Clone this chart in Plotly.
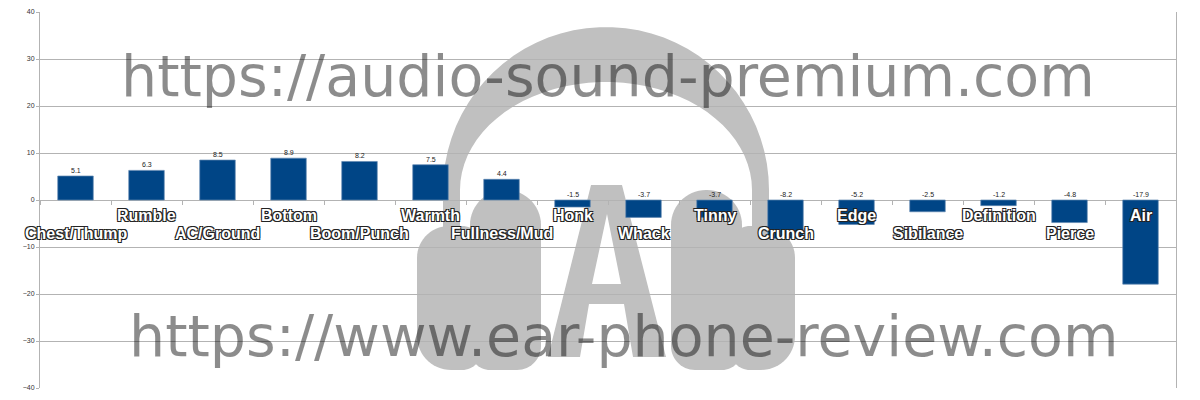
import numpy as np
import plotly.graph_objects as go

# ---------------- data ----------------
categories = ["Chest/Thump", "Rumble", "AC/Ground", "Bottom", "Boom/Punch", "Warmth",
              "Fullness/Mud", "Honk", "Whack", "Tinny", "Crunch", "Edge", "Sibilance",
              "Definition", "Pierce", "Air"]
values = [5.1, 6.3, 8.5, 8.9, 8.2, 7.5, 4.4, -1.5, -3.7, -3.7, -8.2, -5.2, -2.5, -1.2, -4.8, -17.9]
y_ticks = [-40, -30, -20, -10, 0, 10, 20, 30, 40]
label_rows = [-7.2, -3.4]          # y positions (data units) of the alternating label rows
watermark_top = "https://audio-sound-premium.com"
watermark_bottom = "https://www.ear-phone-review.com"

# ---------------- layout geometry ----------------
W, H = 1200, 400
ML, MR, MT, MB = 40, 24, 12, 12
PW, PH = W - ML - MR, H - MT - MB

def px2paper(x, y):
    return (x - ML) / PW, (H - MB - y) / PH

def path_from(points, close=True):
    s = ""
    for i, (x, y) in enumerate(points):
        px_, py_ = px2paper(x, y)
        s += ("M" if i == 0 else "L") + f"{px_:.5f},{py_:.5f} "
    if close:
        s += "Z "
    return s

def arc(cx, cy, rx, ry, a0, a1, n=40):
    t = np.linspace(np.radians(a0), np.radians(a1), n)
    return [(cx + rx * np.cos(a), cy - ry * np.sin(a)) for a in t]

def rrect(x0, y0, x1, y1, rtl, rtr, rbr, rbl):
    pts = []
    pts += arc(x0 + rtl, y0 + rtl, rtl, rtl, 180, 90, 16)
    pts += arc(x1 - rtr, y0 + rtr, rtr, rtr, 90, 0, 16)
    pts += arc(x1 - rbr, y1 - rbr, rbr, rbr, 0, -90, 16)
    pts += arc(x0 + rbl, y1 - rbl, rbl, rbl, 270, 180, 16)
    return pts

LOGO = "#c0c0c0"
CX = 606

shapes = []
# headband
band = [(443, 238)] + arc(CX, 190, 163, 163, 180, 0) + [(769, 238), (752, 238)] \
       + arc(CX, 190, 146, 108, 0, 180) + [(460, 238)]
shapes.append(dict(type="path", path=path_from(band), xref="paper", yref="paper",
                   fillcolor=LOGO, line=dict(width=0), layer="below"))
# ear cups (left, then mirrored right)
cups_left = [rrect(417, 226, 482, 370, 32, 20, 20, 34),
             rrect(470, 190, 541, 370, 35, 35, 24, 20)]
for c in cups_left:
    shapes.append(dict(type="path", path=path_from(c), xref="paper", yref="paper",
                       fillcolor=LOGO, line=dict(width=0), layer="below"))
    mirrored = [(2 * CX - x, y) for x, y in c]
    shapes.append(dict(type="path", path=path_from(mirrored), xref="paper", yref="paper",
                       fillcolor=LOGO, line=dict(width=0), layer="below"))
# letter A
a_outer = [(548, 357), (591, 185), (622, 185), (666, 357), (633, 357), (624, 304),
           (589, 304), (580, 357)]
a_inner = [(592, 284), (607, 214), (621, 284)]
shapes.append(dict(type="path", path=path_from(a_outer) + path_from(a_inner),
                   xref="paper", yref="paper", fillcolor=LOGO, fillrule="evenodd",
                   line=dict(width=0), layer="below"))

# ---------------- figure ----------------
fig = go.Figure()
fig.add_trace(go.Bar(
    x=categories, y=values,
    marker=dict(color="#004586", line=dict(color="#5f86b0", width=0.7)),
    hoverinfo="x+y",
))

annotations = []
# value labels
for c, v in zip(categories, values):
    annotations.append(dict(x=c, y=max(v, 0), xref="x", yref="y", text=f"{v:g}",
                            showarrow=False, yanchor="bottom", yshift=0,
                            font=dict(family="Liberation Sans", size=7, color="#222222")))
# category labels with outline
outline = "-1px -1px 0 #222, 1px -1px 0 #222, -1px 1px 0 #222, 1px 1px 0 #222"
for i, c in enumerate(categories):
    annotations.append(dict(x=c, y=label_rows[i % 2], xref="x", yref="y", text=c,
                            showarrow=False, yanchor="middle",
                            font=dict(family="Liberation Sans", size=16, color="white",
                                      weight="bold", shadow=outline)))
# watermarks
for txt, (xc, yc) in [(watermark_top, (608, 76)), (watermark_bottom, (623, 336))]:
    px_, py_ = px2paper(xc, yc)
    annotations.append(dict(x=px_, y=py_, xref="paper", yref="paper", text=txt,
                            showarrow=False, xanchor="center", yanchor="middle",
                            font=dict(family="DejaVu Sans", size=57,
                                      color="rgba(0,0,0,0.45)")))

fig.update_layout(
    width=W, height=H,
    margin=dict(l=ML, r=MR, t=MT, b=MB, pad=0),
    plot_bgcolor="white", paper_bgcolor="white",
    showlegend=False, bargap=0.5,
    shapes=shapes, annotations=annotations,
    xaxis=dict(type="category", anchor="free", position=0.5, range=[-0.5, 15.5],
               showticklabels=False, showgrid=False, showline=False, zeroline=False,
               ticks="outside", tickson="boundaries", ticklen=4, tickcolor="#b3b3b3"),
    yaxis=dict(range=[-40, 40], tickvals=y_ticks, showgrid=True, gridcolor="#b3b3b3",
               gridwidth=1, zeroline=True, zerolinecolor="#b3b3b3", zerolinewidth=1,
               showline=True, linecolor="#b3b3b3", mirror=True, ticks="outside",
               ticklen=3, tickcolor="#b3b3b3", automargin=False,
               tickfont=dict(family="Liberation Sans", size=7, color="#333333")),
)

fig.write_html("out.html", config={"displayModeBar": False},
               post_script="document.body.style.margin='0';")
